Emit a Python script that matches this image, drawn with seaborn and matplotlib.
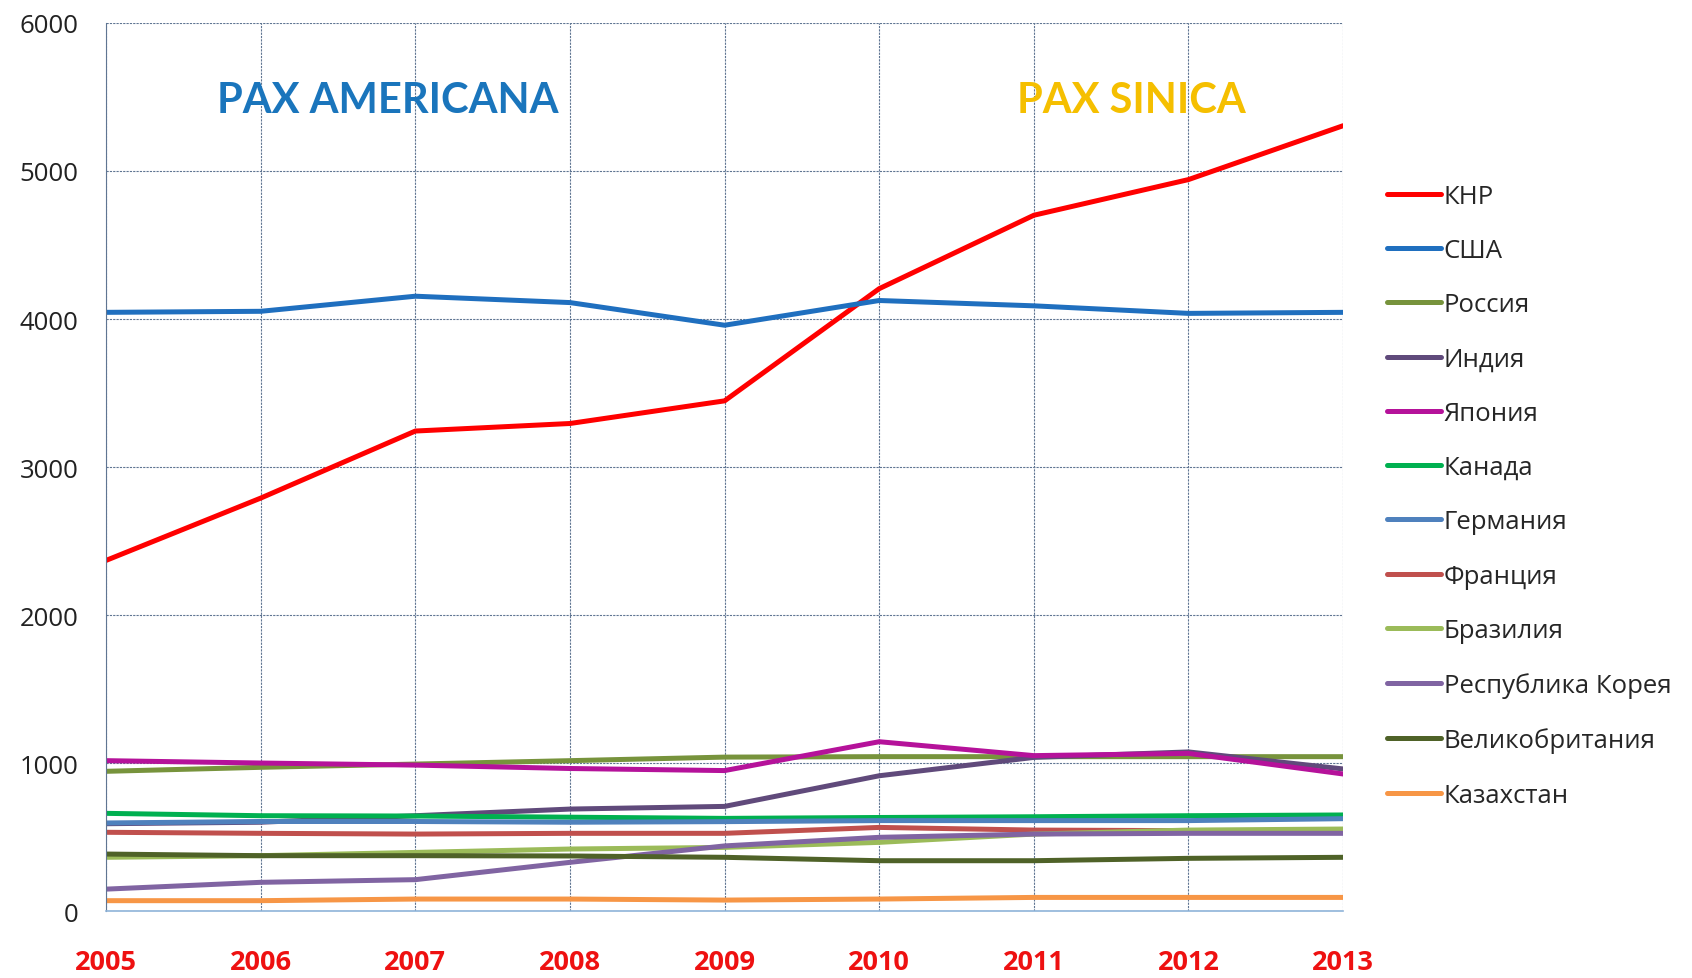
import matplotlib
matplotlib.use("Agg")
import matplotlib.pyplot as plt
import numpy as np
import pandas as pd
import seaborn as sns

YEARS = [2005, 2006, 2007, 2008, 2009, 2010, 2011, 2012, 2013]

COUNTRIES = [
    "КНР", "США", "Россия", "Индия", "Япония", "Канада", "Германия",
    "Франция", "Бразилия", "Республика Корея", "Великобритания", "Казахстан",
]

CHINA = [2369, 2790, 3243, 3294, 3447, 4205, 4701, 4942, 5306]
USA = [4045, 4052, 4154, 4111, 3958, 4125, 4089, 4038, 4045]
RUSSIA = [944, 971, 993, 1016, 1040, 1043, 1043, 1043, 1043]
INDIA = [590, 600, 644, 689, 707, 914, 1038, 1075, 960]
JAPAN = [1016, 1000, 986, 963, 949, 1144, 1050, 1065, 926]
CANADA = [660, 644, 642, 634, 626, 632, 637, 644, 649]
GERMANY = [595, 605, 605, 600, 604, 611, 611, 611, 624]
FRANCE = [532, 525, 520, 525, 525, 565, 547, 543, 543]
BRAZIL = [363, 374, 396, 419, 430, 464, 520, 547, 554]
KOREA = [148, 194, 212, 329, 440, 498, 520, 525, 525]
UK = [385, 374, 374, 372, 363, 340, 340, 356, 363]
KAZAKHSTAN = [70, 70, 81, 81, 74, 81, 92, 92, 92]

SERIES = [CHINA, USA, RUSSIA, INDIA, JAPAN, CANADA, GERMANY,
          FRANCE, BRAZIL, KOREA, UK, KAZAKHSTAN]

COLORS = {
    "КНР": "#ff0000",
    "США": "#1f6fbf",
    "Россия": "#77933c",
    "Индия": "#604a7b",
    "Япония": "#b5129a",
    "Канада": "#00b050",
    "Германия": "#4f81bd",
    "Франция": "#c0504d",
    "Бразилия": "#9bbb59",
    "Республика Корея": "#8064a2",
    "Великобритания": "#4f6228",
    "Казахстан": "#f79646",
}

rows = []
for name, values in zip(COUNTRIES, SERIES):
    for year, value in zip(YEARS, values):
        rows.append({"year": year, "value": value, "country": name})
df = pd.DataFrame(rows)

sns.set_style("white")
plt.rcParams["font.family"] = ["Open Sans", "DejaVu Sans"]

fig = plt.figure(figsize=(16.92, 9.79), dpi=100)
ax = fig.add_axes([0.0627, 0.0684, 0.7311, 0.9071])

sns.lineplot(
    data=df, x="year", y="value", hue="country", hue_order=COUNTRIES,
    palette=COLORS, linewidth=3.6, ax=ax, legend=True,
)

grid_color = "#5f7592"
ax.set_xlim(2005, 2013)
ax.set_ylim(0, 6000)
ax.set_xticks(YEARS)
ax.set_yticks(range(0, 6001, 1000))
ax.set_xlabel("")
ax.set_ylabel("")
ax.grid(True, color=grid_color, linestyle=(0, (2, 1)), linewidth=0.8)
ax.set_axisbelow(True)
for side in ["top", "right"]:
    ax.spines[side].set_visible(False)
ax.spines["left"].set_color(grid_color)
ax.spines["bottom"].set_color("#8fb4d9")
ax.spines["bottom"].set_linewidth(1.2)
ax.tick_params(axis="y", labelsize=18.5, length=8, width=0.8,
               color=grid_color, pad=12, labelcolor="#222222")
ax.tick_params(axis="x", labelsize=19.5, length=8, width=0.8,
               color=grid_color, pad=19, labelcolor="#ee1111")
for lbl in ax.get_xticklabels():
    lbl.set_fontweight("bold")

ax.text(2006.82, 5480, "PAX AMERICANA", color="#1a75bc", fontsize=30,
        fontweight="bold", ha="center", va="center", family="Lato")
ax.text(2011.63, 5480, "PAX SINICA", color="#f5bf00", fontsize=30,
        fontweight="bold", ha="center", va="center", family="Lato")

handles, labels = ax.get_legend_handles_labels()
leg = ax.legend(
    handles, labels, loc="upper left", bbox_to_anchor=(1.0355, 0.819),
    frameon=False, fontsize=18.5, handlelength=2.1, handletextpad=0.1,
    labelspacing=1.14, borderaxespad=0, borderpad=0,
)
for line in leg.get_lines():
    line.set_linewidth(3.6)

fig.savefig("out.png", dpi=100)
